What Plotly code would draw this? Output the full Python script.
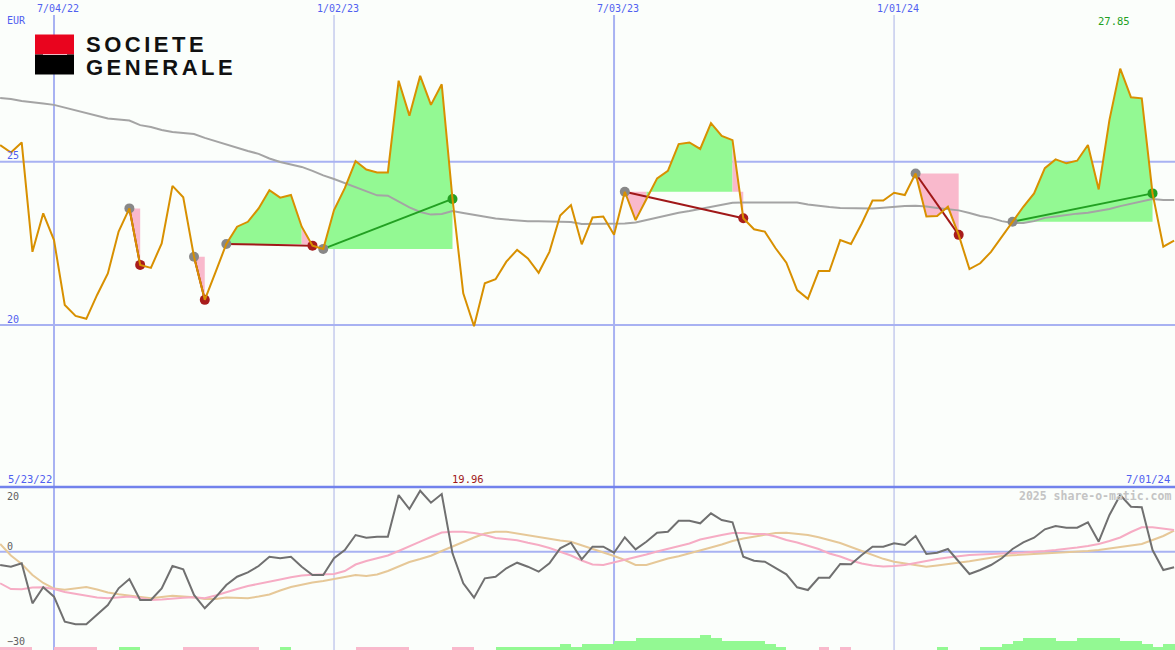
import plotly.graph_objects as go
import pandas as pd

# ---------------- data ----------------
start_date = "2022-05-30"
n_weeks = 110
dates = list(pd.date_range(start_date, periods=n_weeks, freq="7D"))

price = [25.51, 25.28, 25.59, 22.24, 23.42, 22.60, 20.61, 20.28, 20.19, 20.92,
         21.58, 22.86, 23.57, 21.84, 21.75, 22.50, 24.26, 23.91, 22.09, 20.77,
         21.62, 22.48, 23.01, 23.16, 23.57, 24.13, 23.90, 23.98, 23.01, 22.43,
         22.33, 23.52, 24.19, 25.02, 24.76, 24.67, 24.67, 27.48, 26.41, 27.63,
         26.74, 27.37, 23.86, 20.97, 19.96, 21.28, 21.40, 21.94, 22.30, 22.04,
         21.60, 22.24, 23.35, 23.67, 22.47, 23.29, 23.32, 22.76, 24.08, 23.21,
         23.85, 24.49, 24.72, 25.54, 25.59, 25.39, 26.18, 25.79, 25.66, 23.27,
         22.93, 22.86, 22.35, 21.91, 21.07, 20.80, 21.65, 21.65, 22.60, 22.48,
         23.11, 23.81, 23.81, 24.05, 23.98, 24.64, 23.32, 23.34, 23.62, 22.76,
         21.71, 21.89, 22.24, 22.70, 23.16, 23.62, 24.03, 24.80, 25.07, 24.95,
         25.03, 25.51, 24.15, 26.28, 27.85, 26.97, 26.94, 24.03, 22.40, 22.58]

moving_avg = [26.95, 26.92, 26.86, 26.83, 26.78, 26.74, 26.66, 26.57, 26.49, 26.40,
              26.32, 26.29, 26.26, 26.12, 26.06, 25.97, 25.91, 25.88, 25.85, 25.73,
              25.63, 25.51, 25.42, 25.33, 25.24, 25.10, 24.99, 24.91, 24.84, 24.72,
              24.58, 24.47, 24.35, 24.23, 24.10, 23.97, 23.96, 23.77, 23.60, 23.46,
              23.38, 23.40, 23.49, 23.43, 23.37, 23.31, 23.26, 23.23, 23.20, 23.18,
              23.18, 23.17, 23.17, 23.15, 23.09, 23.09, 23.09, 23.09, 23.11, 23.14,
              23.22, 23.29, 23.37, 23.44, 23.49, 23.55, 23.61, 23.67, 23.74, 23.75,
              23.75, 23.75, 23.75, 23.75, 23.75, 23.69, 23.64, 23.61, 23.58, 23.57,
              23.57, 23.57, 23.59, 23.62, 23.64, 23.65, 23.63, 23.58, 23.55, 23.51,
              23.43, 23.34, 23.28, 23.18, 23.12, 23.12, 23.18, 23.28, 23.32, 23.37,
              23.41, 23.44, 23.49, 23.55, 23.64, 23.72, 23.80, 23.86, 23.83, 23.83]

osc_main = [-4.08, -4.60, -3.56, -15.83, -10.92, -13.80, -21.47, -22.27, -22.27, -19.42,
            -16.35, -11.23, -8.37, -14.82, -14.82, -11.23, -4.39, -5.40, -13.28, -17.36,
            -13.99, -10.21, -7.67, -6.32, -4.39, -1.53, -2.02, -1.53, -4.60, -7.15,
            -7.15, -2.02, 0.52, 5.12, 4.29, 4.60, 4.60, 17.39, 13.10, 18.71,
            15.03, 17.70, -0.49, -9.69, -14.11, -8.16, -7.67, -5.09, -3.37, -4.60,
            -6.13, -3.56, 1.04, 2.76, -2.33, 1.53, 1.53, -0.31, 4.42, 0.74,
            3.07, 5.83, 6.13, 9.51, 9.51, 8.71, 11.78, 9.72, 9.02, -1.53,
            -2.76, -3.07, -5.09, -6.93, -10.92, -11.75, -7.98, -7.98, -3.77, -3.87,
            -1.01, 1.53, 1.53, 2.58, 2.06, 4.82, -0.71, -0.31, 0.83, -3.07,
            -6.84, -5.61, -4.08, -2.02, 0.83, 2.88, 4.29, 6.87, 7.88, 7.36,
            7.36, 9.02, 3.07, 11.26, 17.39, 13.80, 13.62, 0.52, -5.61, -4.79]

osc_pink = [-9.69, -11.44, -11.53, -10.98, -10.92, -11.44, -12.36, -12.98, -13.59, -14.05,
            -14.29, -14.05, -13.74, -14.20, -14.82, -14.66, -14.36, -14.14, -13.99, -14.29,
            -13.44, -12.36, -11.44, -10.52, -9.91, -9.29, -8.53, -7.82, -7.30, -7.09,
            -6.93, -6.84, -5.92, -3.93, -2.85, -2.02, -1.17, 0.21, 1.75, 3.07,
            4.51, 5.89, 6.10, 6.13, 5.74, 5.12, 4.20, 3.83, 3.53, 2.73,
            2.06, 1.13, 0.06, -1.17, -2.70, -3.93, -4.08, -3.31, -2.39, -1.63,
            -0.86, 0.06, 0.83, 1.60, 2.52, 3.74, 4.51, 5.12, 5.74, 5.74,
            5.43, 5.43, 4.66, 3.59, 2.82, 1.75, 0.83, -0.55, -1.47, -2.70,
            -3.62, -4.23, -4.54, -4.39, -4.08, -3.47, -2.76, -2.24, -1.78, -1.32,
            -1.01, -0.86, -0.64, -0.49, -0.40, -0.25, -0.09, 0.21, 0.52, 0.83,
            1.29, 1.75, 2.36, 3.28, 4.36, 6.04, 7.48, 7.48, 7.12, 6.66]

osc_tan = [2.36, -1.17, -3.77, -7.15, -9.60, -11.29, -11.69, -11.29, -10.83, -11.60,
           -12.52, -13.07, -13.44, -13.90, -14.29, -13.90, -13.53, -13.74, -13.99, -14.51,
           -14.51, -14.05, -14.14, -14.26, -13.74, -13.13, -11.90, -10.83, -10.15, -9.45,
           -8.99, -8.37, -7.76, -7.15, -7.45, -6.99, -5.92, -4.54, -3.16, -2.24,
           -1.23, 0.21, 1.60, 3.13, 4.36, 5.58, 6.13, 6.13, 5.58, 5.03,
           4.36, 3.80, 3.44, 3.04, 1.96, 0.98, -0.09, -1.32, -2.55, -4.08,
           -4.08, -3.01, -2.09, -1.38, -0.55, 0.31, 1.29, 2.21, 3.28, 4.05,
           4.66, 5.06, 5.74, 5.83, 5.43, 5.12, 4.42, 3.65, 2.67, 1.44,
           0.21, -1.01, -2.18, -3.07, -3.62, -4.08, -4.60, -4.23, -3.83, -3.25,
           -2.94, -2.39, -1.78, -1.32, -1.10, -0.92, -0.74, -0.58, -0.46, -0.34,
           -0.09, 0.21, 0.52, 0.98, 1.53, 1.90, 2.36, 3.59, 4.82, 6.50]

hist = [-1, -1, -1, 0, 0, -1, -1, -1, -1, 0,
        0, 1, 1, 0, 0, 0, 0, -1, -1, -1,
        -1, -1, -1, -1, 0, 0, 1, 0, 0, 0,
        0, 0, 0, -1, -1, -1, -1, -1, 0, 0,
        0, 0, -1, -1, 0, 0, 1, 1, 1, 1,
        1, 1, 2, 1, 2, 2, 2, 3, 3, 4,
        4, 4, 4, 4, 4, 5, 4, 3, 3, 3,
        3, 2, 1, 0, 0, 0, -1, 0, -1, 0,
        0, 0, 0, 0, 0, 0, 0, 1, 0, 0,
        0, 1, 1, 2, 3, 4, 4, 4, 3, 3,
        4, 4, 4, 4, 3, 3, 2, 1, 2, 2]

trade_entries = [12, 18, 21, 30, 58, 85, 94]
trade_exits = [13, 19, 29, 42, 69, 89, 107]

grid_dates_major = ["2022-07-04", "2023-07-03"]
grid_dates_minor = ["2023-01-02", "2024-01-01"]
top_labels = ["7/04/22", "1/02/23", "7/03/23", "1/01/24"]
top_label_dates = ["2022-07-04", "2023-01-02", "2023-07-03", "2024-01-01"]
upper_ticks = [25, 20]
lower_ticks = [20, 0, -30]

# ---------------- styling ----------------
W, H = 1175, 650
BG = "#fbfefb"
BLUE_TXT = "#5060f0"
GRID = "#a8b2f2"
GRID_THIN = "#aab2e6"
ORANGE = "#d89000"
MA_GRAY = "#a4a4a4"
FILL_GREEN = "#93f993"
FILL_PINK = "#f9b9cc"
DOT_GRAY = "#888888"
DOT_RED = "#a81c1c"
DOT_GREEN = "#22a022"
LINE_RED = "#a01818"
LINE_GREEN = "#22a022"
MONO = "DejaVu Sans Mono"

split = (H - 487) / H  # lower panel height fraction


def py(y):
    return 1 - y / H


def px(x):
    return x / W


fig = go.Figure()

# ---------- trade fills ----------
for a, b in zip(trade_entries, trade_exits):
    e = price[a]
    polys = {"g": ([], []), "p": ([], [])}
    for k in range(a, b):
        key = "g" if price[k + 1] >= e else "p"
        xs, ys = polys[key]
        xs += [dates[k], dates[k], dates[k + 1], dates[k + 1], None]
        ys += [e, price[k], price[k + 1], e, None]
    for key, col in (("g", FILL_GREEN), ("p", FILL_PINK)):
        xs, ys = polys[key]
        if xs:
            fig.add_trace(go.Scatter(x=xs, y=ys, mode="lines", fill="toself",
                                     fillcolor=col, line=dict(width=0),
                                     connectgaps=False, hoverinfo="skip",
                                     showlegend=False, xaxis="x", yaxis="y"))

# ---------- moving average ----------
fig.add_trace(go.Scatter(x=dates, y=moving_avg, mode="lines",
                         line=dict(color=MA_GRAY, width=2),
                         showlegend=False, xaxis="x", yaxis="y"))

# ---------- trade lines and dots ----------
for a, b in zip(trade_entries, trade_exits):
    win = price[b] > price[a]
    fig.add_trace(go.Scatter(x=[dates[a], dates[b]], y=[price[a], price[b]],
                             mode="lines",
                             line=dict(color=LINE_GREEN if win else LINE_RED, width=2),
                             showlegend=False, xaxis="x", yaxis="y"))
fig.add_trace(go.Scatter(x=[dates[a] for a in trade_entries],
                         y=[price[a] for a in trade_entries], mode="markers",
                         marker=dict(color=DOT_GRAY, size=10, line=dict(width=0)),
                         showlegend=False, xaxis="x", yaxis="y"))
fig.add_trace(go.Scatter(x=[dates[b] for b in trade_exits],
                         y=[price[b] for b in trade_exits], mode="markers",
                         marker=dict(color=[DOT_GREEN if price[b] > price[a] else DOT_RED
                                            for a, b in zip(trade_entries, trade_exits)],
                                     size=10, line=dict(width=0)),
                         showlegend=False, xaxis="x", yaxis="y"))

# ---------- price ----------
fig.add_trace(go.Scatter(x=dates, y=price, mode="lines",
                         line=dict(color=ORANGE, width=2),
                         showlegend=False, xaxis="x", yaxis="y"))

# ---------- lower panel ----------
fig.add_trace(go.Bar(x=dates, y=[abs(v) for v in hist],
                     marker=dict(color=[FILL_GREEN if v > 0 else FILL_PINK for v in hist],
                                 line=dict(width=0)),
                     width=7 * 86400000, offset=0,
                     showlegend=False, xaxis="x2", yaxis="y3"))
fig.add_trace(go.Scatter(x=dates, y=osc_tan, mode="lines",
                         line=dict(color="#e6c898", width=2),
                         showlegend=False, xaxis="x2", yaxis="y2"))
fig.add_trace(go.Scatter(x=dates, y=osc_pink, mode="lines",
                         line=dict(color="#f6acc4", width=2),
                         showlegend=False, xaxis="x2", yaxis="y2"))
fig.add_trace(go.Scatter(x=dates, y=osc_main, mode="lines",
                         line=dict(color="#707070", width=2),
                         showlegend=False, xaxis="x2", yaxis="y2"))

# ---------- shapes ----------
shapes = []
for d in grid_dates_major:
    shapes.append(dict(type="line", xref="x", yref="paper", x0=d, x1=d, y0=0, y1=py(15),
                       line=dict(color=GRID, width=2), layer="below"))
for d in grid_dates_minor:
    shapes.append(dict(type="line", xref="x", yref="paper", x0=d, x1=d, y0=0, y1=py(15),
                       line=dict(color=GRID_THIN, width=1), layer="below"))
for v in upper_ticks:
    shapes.append(dict(type="line", xref="paper", yref="y", x0=0, x1=1, y0=v, y1=v,
                       line=dict(color=GRID, width=2), layer="below"))
shapes.append(dict(type="line", xref="paper", yref="y2", x0=0, x1=1, y0=0, y1=0,
                   line=dict(color=GRID, width=2), layer="below"))
shapes.append(dict(type="line", xref="paper", yref="paper", x0=0, x1=1,
                   y0=split, y1=split, line=dict(color="#7282ec", width=2.5), layer="above"))
# logo
shapes.append(dict(type="rect", xref="paper", yref="paper", x0=px(35), x1=px(74),
                   y0=py(54.5), y1=py(34.5), fillcolor="#e9041e", line=dict(width=0),
                   layer="above"))
shapes.append(dict(type="rect", xref="paper", yref="paper", x0=px(35), x1=px(74),
                   y0=py(74.5), y1=py(54.5), fillcolor="#000000", line=dict(width=0),
                   layer="above"))
shapes.append(dict(type="line", xref="paper", yref="paper", x0=px(43), x1=px(67),
                   y0=py(54.5), y1=py(54.5), line=dict(color="#f2b8c2", width=1),
                   layer="above"))

# ---------- annotations ----------
ann = []
for lbl, d in zip(top_labels, top_label_dates):
    ann.append(dict(x=d, xref="x", y=py(9), yref="paper", text=lbl, showarrow=False,
                    xanchor="center", yanchor="middle", xshift=4,
                    font=dict(family=MONO, size=10, color=BLUE_TXT)))
ann.append(dict(x=px(5), xref="paper", y=py(21), yref="paper", text="EUR",
                showarrow=False, xanchor="left", yanchor="middle",
                font=dict(family=MONO, size=10, color=BLUE_TXT)))
for v in upper_ticks:
    ann.append(dict(x=px(5), xref="paper", y=v, yref="y", text=str(v), showarrow=False,
                    xanchor="left", yanchor="middle", yshift=6,
                    font=dict(family=MONO, size=10, color=BLUE_TXT)))
lower_pos = {20: 496, 0: 546, -30: 641}
for v in lower_ticks:
    ann.append(dict(x=px(5), xref="paper", y=py(lower_pos[v]), yref="paper",
                    text=str(v).replace("-", "\u2212"), showarrow=False,
                    xanchor="left", yanchor="middle",
                    font=dict(family=MONO, size=10, color="#606060")))
ann.append(dict(x=px(6), xref="paper", y=py(479), yref="paper", text="5/23/22",
                showarrow=False, xanchor="left", yanchor="middle",
                font=dict(family=MONO, size=10.5, color=BLUE_TXT)))
ann.append(dict(x=px(1172), xref="paper", y=py(479), yref="paper", text="7/01/24",
                showarrow=False, xanchor="right", yanchor="middle",
                font=dict(family=MONO, size=10.5, color=BLUE_TXT)))
imin = price.index(min(price))
imax = price.index(max(price))
ann.append(dict(x=dates[imin], xref="x", y=py(479), yref="paper",
                text=f"{price[imin]:.2f}", showarrow=False, xanchor="center",
                yanchor="middle", xshift=-6,
                font=dict(family=MONO, size=10.5, color="#a01818")))
ann.append(dict(x=dates[imax], xref="x", y=py(21), yref="paper",
                text=f"{price[imax]:.2f}", showarrow=False, xanchor="center",
                yanchor="middle", xshift=-6,
                font=dict(family=MONO, size=10.5, color="#22a022")))
ann.append(dict(x=px(1173), xref="paper", y=py(496), yref="paper",
                text="<b>2025 share-o-matic.com</b>", showarrow=False,
                xanchor="right", yanchor="middle",
                font=dict(family=MONO, size=11.5, color="#c4c4c4")))
ann.append(dict(x=px(84), xref="paper", y=py(44.5), yref="paper",
                text="<span style='letter-spacing:3.5px'>SOCIETE</span>",
                showarrow=False, xanchor="left", yanchor="middle",
                font=dict(family="Liberation Sans", size=22, color="#111111",
                          weight=600)))
ann.append(dict(x=px(84), xref="paper", y=py(67), yref="paper",
                text="<span style='letter-spacing:3.5px'>GENERALE</span>",
                showarrow=False, xanchor="left", yanchor="middle",
                font=dict(family="Liberation Sans", size=22, color="#111111",
                          weight=600)))

x_range = ["2022-05-29 21:40", "2024-07-01 14:24"]
fig.update_layout(
    width=W, height=H,
    margin=dict(l=0, r=0, t=0, b=0, pad=0),
    paper_bgcolor=BG, plot_bgcolor=BG,
    showlegend=False,
    xaxis=dict(domain=[0, 1], range=x_range, type="date", visible=False, anchor="y"),
    xaxis2=dict(domain=[0, 1], range=x_range, type="date", visible=False,
                anchor="y2", matches="x"),
    yaxis=dict(domain=[split, 1], range=[15.04, 29.951], visible=False),
    yaxis2=dict(domain=[0, split], range=[-30.15, 19.85], visible=False),
    yaxis3=dict(overlaying="y2", range=[0, 54.3], visible=False),
    shapes=shapes,
    annotations=ann,
    bargap=0,
)

fig.write_html("out.html", config={"displayModeBar": False},
               post_script="document.body.style.margin='0';document.body.style.padding='0';")
